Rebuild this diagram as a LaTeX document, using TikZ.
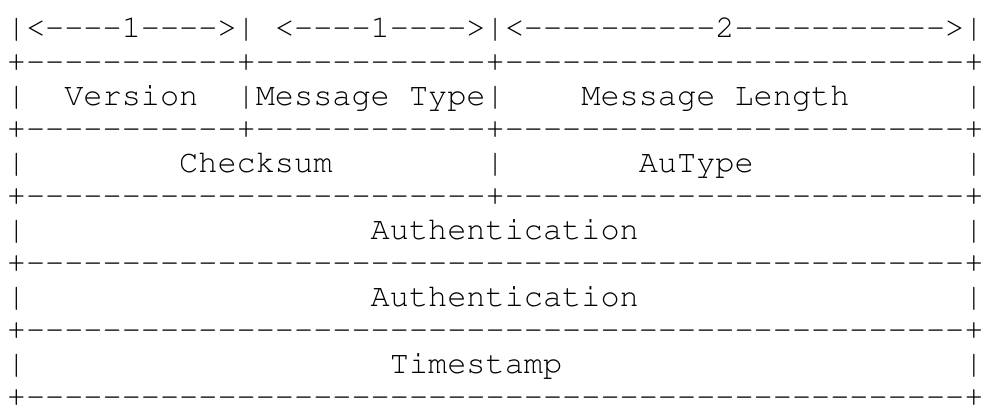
\documentclass[tikz,border=0pt]{standalone}
\usepackage[T1]{fontenc}
\usepackage{courier}
\usetikzlibrary{positioning}

% runs of dashes and blanks, one glyph at a time (no -- ligature)
\newcommand{\hd}[1]{\foreach \k in {1,...,#1}{-}}
\newcommand{\sk}[1]{\foreach \k in {1,...,#1}{~}}

\begin{document}
\begin{tikzpicture}[auto, node distance = 10.5pt, % one text line
                semithick
            ]

            \tikzstyle{every node}=[inner sep = 0pt, text height = 8pt,
            text depth = 2pt, font = \ttfamily\fontsize{10pt}{10.5pt}\selectfont]

            \useasboundingbox (0,0) rectangle (308pt,-129.7pt);

            % header ruler
            \node (r0) [anchor = base west] at (1.86pt,-11.9pt)
            {|<\hd{4}1\hd{4}>|~<\hd{4}1\hd{4}>|<\hd{10}2\hd{11}>|};
            \node (r1) [below of=r0] {+\hd{11}+\hd{12}+\hd{24}+};
            \node (r2) [below of=r1] {|\sk{2}Version\sk{2}|Message~Type|\sk{4}Message~Length\sk{6}|};
            \node (r3) [below of=r2] {+\hd{11}+\hd{12}+\hd{24}+};
            \node (r4) [below of=r3] {|\sk{8}Checksum\sk{8}|\sk{7}AuType\sk{11}|};
            \node (r5) [below of=r4] {+\hd{24}+\hd{24}+};
            \node (r6) [below of=r5] {|\sk{18}Authentication\sk{17}|};
            \node (r7) [below of=r6] {+\hd{49}+};
            \node (r8) [below of=r7] {|\sk{18}Authentication\sk{17}|};
            \node (r9) [below of=r8] {+\hd{49}+};
            \node (r10) [below of=r9] {|\sk{19}Timestamp\sk{21}|};
            \node (r11) [below of=r10] {+\hd{49}+};
\end{tikzpicture}
\end{document}
